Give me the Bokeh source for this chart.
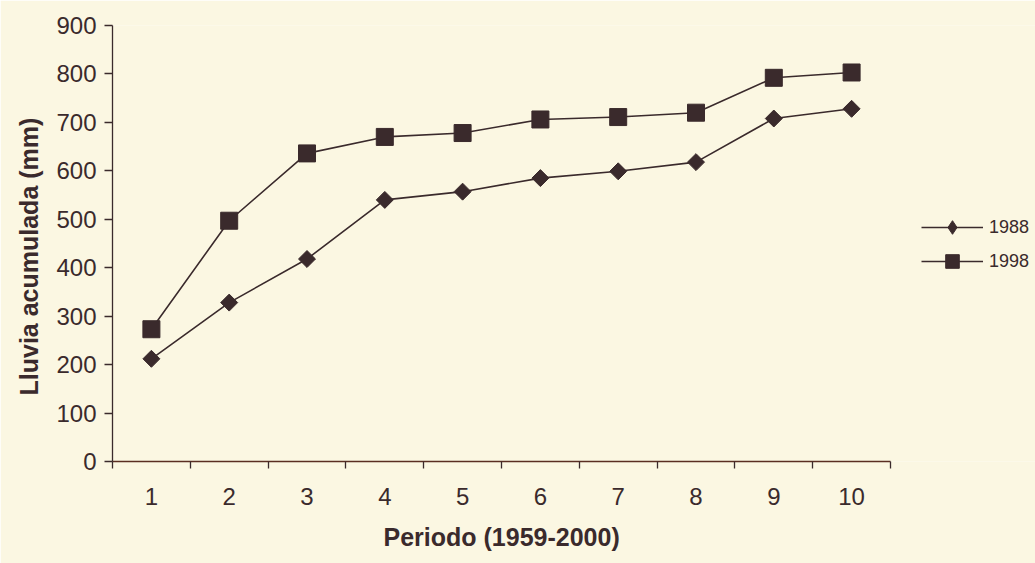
import math
from bokeh.plotting import figure
from bokeh.models import Range1d, FixedTicker, Legend, LegendItem, Title
from bokeh.embed import file_html
from bokeh.resources import INLINE

periods = [1, 2, 3, 4, 5, 6, 7, 8, 9, 10]
lluvia_1988 = [212, 328, 418, 540, 557, 585, 599, 618, 708, 728]
lluvia_1998 = [273, 497, 636, 670, 678, 706, 711, 720, 792, 803]
y_ticks = [0, 100, 200, 300, 400, 500, 600, 700, 800, 900]

BG = "#FBF7E2"
INK = "#3A2A2C"

W, H = 1035, 563
LEFT, RIGHT_AXIS_END, TOP, BOTTOM = 112, 890, 25, 100
unit = (RIGHT_AXIS_END - LEFT) / 10.0
x_end = 0.5 + (W - LEFT) / unit

p = figure(width=W, height=H, output_backend="svg", toolbar_location=None,
           x_range=Range1d(0.5, x_end), y_range=Range1d(0, 900))
p.min_border_left = LEFT
p.min_border_right = 0
p.min_border_top = TOP
p.min_border_bottom = BOTTOM
p.background_fill_color = BG
p.border_fill_color = BG
p.outline_line_color = None
p.xgrid.grid_line_color = None
p.ygrid.grid_line_color = None

r1l = p.line(periods, lluvia_1988, line_color=INK, line_width=1.6)
r1m = p.scatter(periods, lluvia_1988, marker="square", angle=math.pi / 4, size=12,
                fill_color=INK, line_color=INK)
r2l = p.line(periods, lluvia_1998, line_color=INK, line_width=1.6)
r2m = p.scatter(periods, lluvia_1998, marker="square", size=17, fill_color=INK, line_color=INK)
# hidden renderer, only so that the legend shows a diamond
r1k = p.scatter(periods, lluvia_1988, marker="diamond", fill_color=INK, line_color=INK,
                visible=False)

xa = p.xaxis[0]
xa.bounds = (0.5, 10.5)
xa.ticker = FixedTicker(ticks=periods, minor_ticks=[i + 0.5 for i in range(0, 11)])
xa.major_tick_line_color = None
xa.minor_tick_in = 0
xa.minor_tick_out = 7
xa.minor_tick_line_color = INK
xa.minor_tick_line_width = 1.3
xa.axis_line_color = "#5A2E22"
xa.axis_line_width = 1.6
xa.major_label_standoff = 19
xa.major_label_text_font = "Liberation Sans"
xa.major_label_text_font_size = "24px"
xa.major_label_text_color = INK

ya = p.yaxis[0]
ya.ticker = FixedTicker(ticks=y_ticks)
ya.minor_tick_line_color = None
ya.major_tick_in = 0
ya.major_tick_out = 8
ya.major_tick_line_color = INK
ya.major_tick_line_width = 1.3
ya.axis_line_color = INK
ya.axis_line_width = 1.3
ya.major_label_standoff = 8
ya.major_label_text_font = "Liberation Sans"
ya.major_label_text_font_size = "24px"
ya.major_label_text_color = INK

xt = Title(text="Periodo (1959-2000)", align="left", offset=271,
           text_font="Liberation Sans", text_font_style="bold", text_font_size="25px",
           text_color=INK, standoff=26)
p.add_layout(xt, "below")
yt = Title(text="Lluvia acumulada (mm)", align="left", offset=66,
           text_font="Liberation Sans", text_font_style="bold", text_font_size="25px",
           text_color=INK, standoff=22)
p.add_layout(yt, "left")

legend = Legend(items=[LegendItem(label="1988", renderers=[r1l, r1k]),
                       LegendItem(label="1998", renderers=[r2l, r2m])],
                location=(809, 183))
legend.background_fill_alpha = 0
legend.border_line_color = None
legend.inactive_fill_alpha = 0
legend.padding = 0
legend.margin = 0
legend.spacing = 0
legend.glyph_width = 62
legend.glyph_height = 34
legend.label_standoff = 6
legend.label_text_font = "Liberation Sans"
legend.label_text_font_size = "18px"
legend.label_text_color = INK
p.add_layout(legend, "center")

open("out.html", "w").write(file_html(p, INLINE))
